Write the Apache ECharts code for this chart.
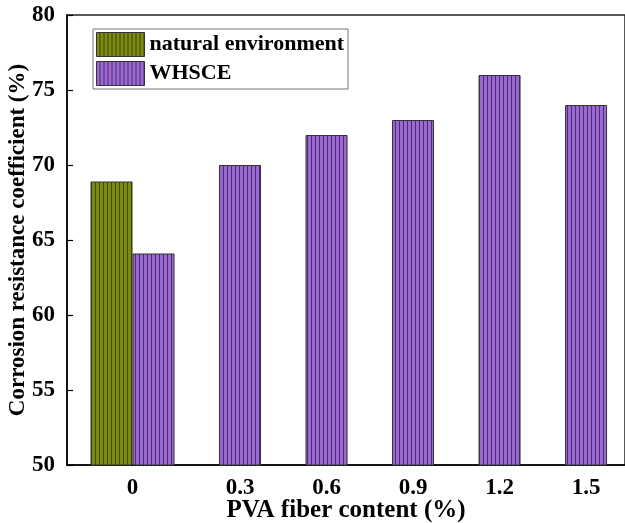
<!DOCTYPE html>
<html>
<head>
<meta charset="utf-8">
<script src="https://cdn.jsdelivr.net/npm/echarts@6/dist/echarts.min.js"></script>
<style>
  html, body { margin: 0; padding: 0; background: #fff; }
  #chart { width: 625px; height: 523px; }
</style>
</head>
<body>
<div id="chart"></div>
<script>
// data
var categories = ['0', '0.3', '0.6', '0.9', '1.2', '1.5'];
var natural = [68.9];                       // only at 0 %
var whsce = [64.1, 70, 72, 73, 76, 74];
var yTicks = [50, 55, 60, 65, 70, 75, 80];

var FONT = '"Liberation Serif", "Times New Roman", serif';
var BAR_W = 42;
var X_MIN = -1, X_MAX = 5.45;
var GRID_L = 67, GRID_R = 0;
var pxPerUnit = (625 - GRID_L - GRID_R) / (X_MAX - X_MIN);
var shift = BAR_W / pxPerUnit;              // natural bar sits one bar width to the left

// vertical stripe fill like the original hatch
function stripes(base, dark) {
  var c = document.createElement('canvas');
  c.width = 4; c.height = 4;
  var ctx = c.getContext('2d');
  ctx.fillStyle = base;
  ctx.fillRect(0, 0, 4, 4);
  ctx.fillStyle = dark;
  ctx.fillRect(3, 0, 1, 4);
  return { image: c, repeat: 'repeat' };
}

var labelPos = [-shift / 2, 1, 2, 3, 4, 5];

var chart = echarts.init(document.getElementById('chart'), null, { renderer: 'canvas' });

var option = {
  animation: false,
  backgroundColor: '#fff',
  grid: {
    left: GRID_L, right: GRID_R, top: 15, bottom: 58,
    outerBoundsMode: 'none',
    containLabel: false,
    show: true, borderColor: '#222', borderWidth: 1.5
  },
  legend: {
    left: 93, top: 29,
    orient: 'vertical',
    itemWidth: 48, itemHeight: 24, itemGap: 4,
    padding: [3, 4, 3, 3],
    borderColor: '#777', borderWidth: 1,
    icon: 'rect',
    itemStyle: { borderColor: '#333', borderWidth: 1 },
    textStyle: { fontFamily: FONT, fontWeight: 'bold', fontSize: 22, color: '#000' },
    data: ['natural environment', 'WHSCE']
  },
  xAxis: {
    type: 'value',
    min: X_MIN, max: X_MAX,
    splitLine: { show: false },
    axisLine: { onZero: false, lineStyle: { color: '#000', width: 1.5 } },
    axisTick: { show: false },
    axisLabel: {
      customValues: labelPos,
      margin: 12,
      fontFamily: FONT, fontWeight: 'bold', fontSize: 23, color: '#000',
      formatter: function (v) {
        for (var i = 0; i < labelPos.length; i++) {
          if (Math.abs(labelPos[i] - v) < 1e-6) return categories[i];
        }
        return '';
      }
    },
    name: 'PVA fiber content (%)',
    nameLocation: 'middle',
    nameMoveOverlap: false,
    nameGap: 33,
    nameTextStyle: { fontFamily: FONT, fontWeight: 'bold', fontSize: 25, color: '#000' }
  },
  yAxis: {
    type: 'value',
    min: yTicks[0], max: yTicks[yTicks.length - 1], interval: 5,
    splitLine: { show: false },
    axisLine: { show: true, onZero: false, lineStyle: { color: '#000', width: 1.5 } },
    axisTick: { show: true, inside: true, length: 6, lineStyle: { color: '#000', width: 1.2 } },
    axisLabel: { margin: 12, fontFamily: FONT, fontWeight: 'bold', fontSize: 23, color: '#000' },
    name: 'Corrosion resistance coefficient (%)',
    nameLocation: 'middle',
    nameMoveOverlap: false,
    nameGap: 37,
    nameTextStyle: { fontFamily: FONT, fontWeight: 'bold', fontSize: 23, color: '#000' }
  },
  series: [
    {
      name: 'natural environment',
      type: 'bar',
      barWidth: BAR_W,
      barGap: '-100%',
      data: natural.map(function (v) { return [-shift, v]; }),
      itemStyle: { color: stripes('#7c8b12', '#3d4700'), borderColor: '#333', borderWidth: 1 }
    },
    {
      name: 'WHSCE',
      type: 'bar',
      barWidth: BAR_W,
      barGap: '-100%',
      data: whsce.map(function (v, i) { return [i, v]; }),
      itemStyle: { color: stripes('#9b68d2', '#4a2c70'), borderColor: '#333', borderWidth: 1 }
    }
  ]
};

chart.setOption(option);
</script>
</body>
</html>
